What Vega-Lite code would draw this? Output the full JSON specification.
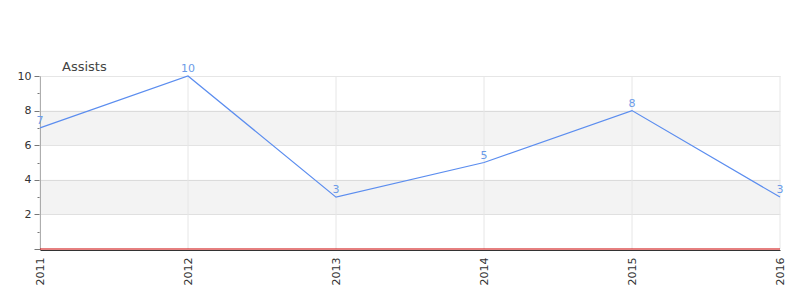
{
  "$schema": "https://vega.github.io/schema/vega-lite/v6.json",
  "autosize": "none",
  "width": 740,
  "height": 173,
  "padding": {"left": 40, "top": 76, "right": 20, "bottom": 51},
  "background": "white",
  "config": {"view": {"stroke": null}, "font": "DejaVu Sans"},
  "title": {"text": "Assists", "anchor": "start", "frame": "group", "dx": 22, "offset": -11, "fontSize": 13, "fontWeight": "normal", "color": "#444", "font": "DejaVu Sans"},
  "datasets": {
    "bands": [{"y1": 2, "y2": 4}, {"y1": 6, "y2": 8}],
    "assists": [
      {"year": 2011, "assists": 7},
      {"year": 2012, "assists": 10},
      {"year": 2013, "assists": 3},
      {"year": 2014, "assists": 5},
      {"year": 2015, "assists": 8},
      {"year": 2016, "assists": 3}
    ]
  },
  "layer": [
    {
      "data": {"name": "bands"},
      "mark": {"type": "rect", "color": "#000", "opacity": 0.046},
      "encoding": {
        "y": {"field": "y1", "type": "quantitative", "scale": {"domain": [0, 10], "nice": false, "zero": true},
          "axis": {
            "values": [0, 1, 2, 3, 4, 5, 6, 7, 8, 9, 10],
            "title": null,
            "labelOverlap": false,
            "labelExpr": "datum.value % 2 == 0 && datum.value > 0 ? datum.label : ''",
            "labelFontSize": 11, "labelColor": "#333", "labelPadding": 3,
            "tickSize": {"condition": {"test": "datum.value % 2 == 1", "value": 3}, "value": 6},
            "tickColor": "#777",
            "domainColor": "#777",
            "grid": true,
            "gridColor": "#e6e6e6",
            "gridOpacity": {"condition": {"test": "datum.value % 2 == 1 || datum.value == 0", "value": 0}, "value": 1}
          }},
        "y2": {"field": "y2"}
      }
    },
    {
      "data": {"name": "assists"},
      "mark": {"type": "rule", "color": "#e6e6e6", "strokeWidth": 1},
      "encoding": {
        "x": {"field": "year", "type": "quantitative", "scale": {"domain": [2011, 2016], "nice": false, "zero": false},
          "axis": {
            "values": [2011, 2012, 2013, 2014, 2015, 2016],
            "format": "d",
            "title": null,
            "labelAngle": -90,
            "labelFontSize": 11, "labelColor": "#333", "labelPadding": 7,
            "ticks": false,
            "offset": 1,
            "domainColor": "#333", "domainWidth": 1,
            "grid": false
          }},
        "y": {"datum": 0, "type": "quantitative",
          "axis": {
            "values": [0, 1, 2, 3, 4, 5, 6, 7, 8, 9, 10],
            "title": null,
            "labelOverlap": false,
            "labelExpr": "datum.value % 2 == 0 && datum.value > 0 ? datum.label : ''",
            "labelFontSize": 11, "labelColor": "#333", "labelPadding": 3,
            "tickSize": {"condition": {"test": "datum.value % 2 == 1", "value": 3}, "value": 6},
            "tickColor": "#777",
            "domainColor": "#777",
            "grid": true,
            "gridColor": "#e6e6e6",
            "gridOpacity": {"condition": {"test": "datum.value % 2 == 1 || datum.value == 0", "value": 0}, "value": 1}
          }},
        "y2": {"datum": 10}
      }
    },
    {
      "data": {"values": [{"v": 0}]},
      "mark": {"type": "rule", "color": "#cc0000", "strokeWidth": 1},
      "encoding": {"y": {"field": "v", "type": "quantitative",
          "axis": {
            "values": [0, 1, 2, 3, 4, 5, 6, 7, 8, 9, 10],
            "title": null,
            "labelOverlap": false,
            "labelExpr": "datum.value % 2 == 0 && datum.value > 0 ? datum.label : ''",
            "labelFontSize": 11, "labelColor": "#333", "labelPadding": 3,
            "tickSize": {"condition": {"test": "datum.value % 2 == 1", "value": 3}, "value": 6},
            "tickColor": "#777",
            "domainColor": "#777",
            "grid": true,
            "gridColor": "#e6e6e6",
            "gridOpacity": {"condition": {"test": "datum.value % 2 == 1 || datum.value == 0", "value": 0}, "value": 1}
          }}}
    },
    {
      "data": {"name": "assists"},
      "mark": {"type": "line", "color": "#5b8def", "strokeWidth": 1.2},
      "encoding": {
        "x": {"field": "year", "type": "quantitative",
          "axis": {
            "values": [2011, 2012, 2013, 2014, 2015, 2016],
            "format": "d",
            "title": null,
            "labelAngle": -90,
            "labelFontSize": 11, "labelColor": "#333", "labelPadding": 7,
            "ticks": false,
            "offset": 1,
            "domainColor": "#333", "domainWidth": 1,
            "grid": false
          }},
        "y": {"field": "assists", "type": "quantitative",
          "axis": {
            "values": [0, 1, 2, 3, 4, 5, 6, 7, 8, 9, 10],
            "title": null,
            "labelOverlap": false,
            "labelExpr": "datum.value % 2 == 0 && datum.value > 0 ? datum.label : ''",
            "labelFontSize": 11, "labelColor": "#333", "labelPadding": 3,
            "tickSize": {"condition": {"test": "datum.value % 2 == 1", "value": 3}, "value": 6},
            "tickColor": "#777",
            "domainColor": "#777",
            "grid": true,
            "gridColor": "#e6e6e6",
            "gridOpacity": {"condition": {"test": "datum.value % 2 == 1 || datum.value == 0", "value": 0}, "value": 1}
          }}
      }
    },
    {
      "data": {"name": "assists"},
      "mark": {"type": "text", "color": "#6b9be8", "fontSize": 11, "baseline": "bottom", "dy": -2},
      "encoding": {
        "x": {"field": "year", "type": "quantitative",
          "axis": {
            "values": [2011, 2012, 2013, 2014, 2015, 2016],
            "format": "d",
            "title": null,
            "labelAngle": -90,
            "labelFontSize": 11, "labelColor": "#333", "labelPadding": 7,
            "ticks": false,
            "offset": 1,
            "domainColor": "#333", "domainWidth": 1,
            "grid": false
          }},
        "y": {"field": "assists", "type": "quantitative",
          "axis": {
            "values": [0, 1, 2, 3, 4, 5, 6, 7, 8, 9, 10],
            "title": null,
            "labelOverlap": false,
            "labelExpr": "datum.value % 2 == 0 && datum.value > 0 ? datum.label : ''",
            "labelFontSize": 11, "labelColor": "#333", "labelPadding": 3,
            "tickSize": {"condition": {"test": "datum.value % 2 == 1", "value": 3}, "value": 6},
            "tickColor": "#777",
            "domainColor": "#777",
            "grid": true,
            "gridColor": "#e6e6e6",
            "gridOpacity": {"condition": {"test": "datum.value % 2 == 1 || datum.value == 0", "value": 0}, "value": 1}
          }},
        "text": {"field": "assists", "type": "quantitative"}
      }
    }
  ]
}
